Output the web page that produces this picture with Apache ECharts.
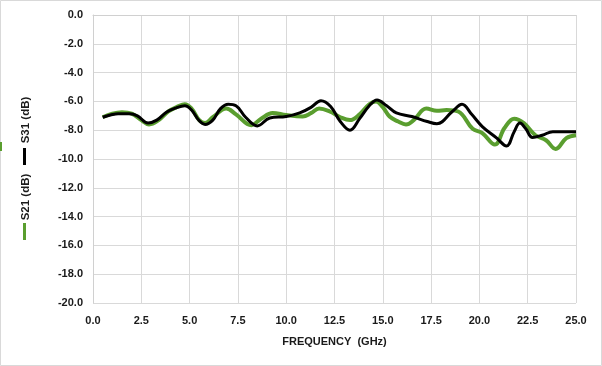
<!DOCTYPE html>
<html>
<head>
<meta charset="utf-8">
<script src="https://cdn.jsdelivr.net/npm/echarts@6/dist/echarts.min.js"></script>
<style>
    html, body {margin:0; padding:0; background:#fff;}
    #main {width:602px; height:366px;}
</style>
</head>
<body>
<div id="main"></div>
<script>
// 频率 (GHz) 与 S21 / S31 (dB)，从图上读出的估计值
var s21Freq = [0.5, 1.0, 1.5, 2.0, 2.5, 2.9, 3.4, 3.9, 4.4, 4.75, 5.1, 5.5, 5.8, 6.2, 6.9, 7.4, 8.2, 8.7, 9.3, 10.0,
    10.85, 11.3, 11.7, 12.25, 12.8, 13.3, 13.8, 14.3, 14.65, 15.0, 15.35, 15.8, 16.2, 16.6, 17.25, 17.8, 18.3, 18.9,
    19.65, 20.15, 20.8, 21.3, 21.8, 22.3, 22.9, 23.45, 23.95, 24.5, 25.0];
var s21Val = [-7.1, -6.85, -6.75, -6.85, -7.3, -7.6, -7.3, -6.7, -6.35, -6.2, -6.5, -7.3, -7.5, -7.1, -6.5, -6.9, -7.65, -7.2, -6.8, -6.95,
    -7.05, -6.8, -6.5, -6.7, -7.1, -7.3, -6.9, -6.2, -6.0, -6.4, -7.05, -7.4, -7.6, -7.3, -6.5, -6.65, -6.6, -6.7,
    -7.9, -8.2, -9.0, -7.85, -7.2, -7.5, -8.35, -8.7, -9.3, -8.55, -8.35];

var s31Freq = [0.5, 0.9, 1.3, 1.9, 2.3, 2.85, 3.3, 3.8, 4.3, 4.75, 5.1, 5.5, 5.8, 6.2, 6.6, 7.0, 7.4, 7.9, 8.5, 9.15,
    10.0, 10.7, 11.3, 11.8, 12.3, 12.8, 13.3, 13.8, 14.3, 14.7, 15.2, 15.7, 16.5, 17.3, 17.8, 18.6, 19.1, 19.6,
    20.15, 20.9, 21.4, 21.8, 22.1, 22.4, 22.75, 23.25, 23.8, 25.0];
var s31Val = [-7.1, -6.95, -6.85, -6.85, -7.0, -7.5, -7.3, -6.75, -6.45, -6.3, -6.6, -7.35, -7.6, -7.3, -6.5, -6.2, -6.3, -7.1, -7.7, -7.15,
    -7.05, -6.8, -6.4, -5.95, -6.35, -7.4, -8.0, -7.2, -6.3, -5.9, -6.3, -6.8, -7.05, -7.4, -7.55, -6.7, -6.2, -6.9,
    -7.75, -8.55, -9.1, -8.1, -7.5, -7.9, -8.5, -8.35, -8.1, -8.1];

var xMin = 0, xMax = 25, xStep = 2.5;
var yMin = -20, yMax = 0, yStep = 2;
var xName = 'FREQUENCY  (GHz)';
var legendNames = ['S21 (dB)', 'S31 (dB)'];

var green = '#5a9e2f';
var labelFont = '"Liberation Sans", Arial, sans-serif';
var textColor = '#1a1a1a';

function pairs(xs, ys) {
    var out = [];
    for (var i = 0; i < xs.length; i++) out.push([xs[i], ys[i]]);
    return out;
}

var myChart = echarts.init(document.getElementById('main'));
myChart.setOption({
    animation: false,
    backgroundColor: '#fff',
    grid: {left: 93, right: 26, top: 15, bottom: 63},
    xAxis: {
        type: 'value', min: xMin, max: xMax, interval: xStep,
        name: xName, nameLocation: 'middle', nameGap: 33,
        nameTextStyle: {fontFamily: labelFont, fontWeight: 'bold', fontSize: 11, color: textColor},
        axisLine: {show: true, lineStyle: {color: '#d0d0d0'}},
        axisTick: {show: false},
        axisLabel: {
            fontFamily: labelFont, fontWeight: 'bold', fontSize: 11, color: textColor, margin: 12,
            formatter: function (v) { return v.toFixed(1); }
        },
        splitLine: {show: true, lineStyle: {color: '#d9d9d9'}}
    },
    yAxis: {
        type: 'value', min: yMin, max: yMax, interval: yStep,
        axisLine: {show: true, lineStyle: {color: '#d0d0d0'}},
        axisTick: {show: false},
        axisLabel: {
            fontFamily: labelFont, fontWeight: 'bold', fontSize: 11, color: textColor, margin: 10,
            formatter: function (v) { return v.toFixed(1); }
        },
        splitLine: {show: true, lineStyle: {color: '#d9d9d9'}}
    },
    series: [
        {
            name: legendNames[0], type: 'line', data: pairs(s21Freq, s21Val),
            smooth: 0.4, showSymbol: false, lineStyle: {color: green, width: 4}, z: 2
        },
        {
            name: legendNames[1], type: 'line', data: pairs(s31Freq, s31Val),
            smooth: 0.4, showSymbol: false, lineStyle: {color: '#000', width: 3}, z: 3
        }
    ],
    graphic: [
        // 外边框
        {type: 'rect', shape: {x: 0.5, y: 0.5, width: 601, height: 365}, style: {fill: 'none', stroke: '#d9d9d9', lineWidth: 1}, silent: true},
        {type: 'rect', shape: {x: 0, y: 142, width: 2, height: 9}, style: {fill: green}, silent: true},
        // 竖排图例
        {type: 'rect', shape: {x: 23, y: 223, width: 3, height: 17}, style: {fill: green}},
        {type: 'text', x: 26, y: 197, rotation: Math.PI / 2,
            style: {text: legendNames[0], fontFamily: labelFont, fontWeight: 'bold', fontSize: 11.5, fill: textColor, align: 'center', verticalAlign: 'middle'}},
        {type: 'rect', shape: {x: 23, y: 148, width: 3, height: 17}, style: {fill: '#000'}},
        {type: 'text', x: 26, y: 120, rotation: Math.PI / 2,
            style: {text: legendNames[1], fontFamily: labelFont, fontWeight: 'bold', fontSize: 11.5, fill: textColor, align: 'center', verticalAlign: 'middle'}}
    ]
});
</script>
</body>
</html>
